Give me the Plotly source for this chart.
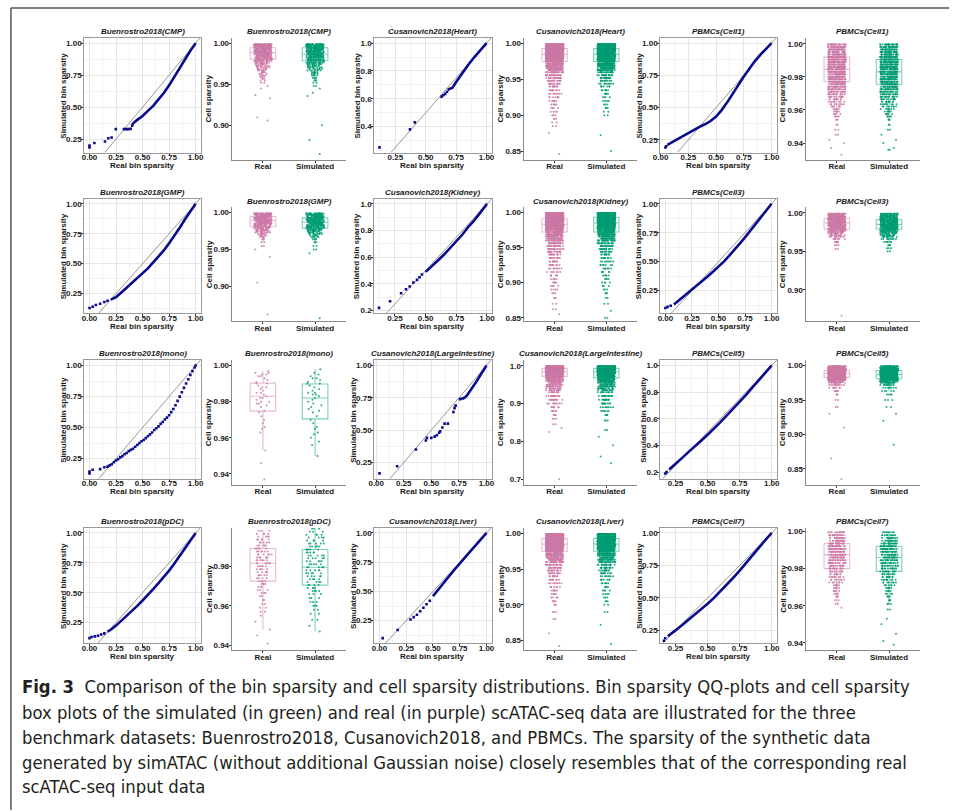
import numpy as np
import plotly.graph_objects as go

W, H = 956, 812

# ---------------- QQ data (real quantile x, simulated quantile y) ----------------
cmp_pts_x = [0.0, 0.0, 0.046, 0.146, 0.177, 0.208, 0.248, 0.325, 0.345, 0.365, 0.387, 0.402]
cmp_pts_y = [0.185, 0.20, 0.219, 0.231, 0.257, 0.262, 0.328, 0.328, 0.328, 0.328, 0.33, 0.354]
cmp_cur_x = [0.40, 0.42, 0.45, 0.5, 0.55, 0.6, 0.65, 0.7, 0.75, 0.8, 0.85, 0.9, 0.95, 1.0]
cmp_cur_y = [0.36, 0.38, 0.40, 0.43, 0.47, 0.51, 0.56, 0.61, 0.67, 0.74, 0.81, 0.88, 0.94, 1.0]

heart_pts_x = [0.119, 0.37, 0.41, 0.63, 0.645, 0.66, 0.675]
heart_pts_y = [0.25, 0.38, 0.43, 0.615, 0.625, 0.635, 0.65]
heart_cur_x = [0.68, 0.70, 0.72, 0.75, 0.8, 0.85, 0.9, 0.95, 1.0]
heart_cur_y = [0.665, 0.67, 0.68, 0.72, 0.785, 0.845, 0.90, 0.95, 1.0]

cell1_pts_x = [0.043, 0.05]
cell1_pts_y = [0.19, 0.20]
cell1_cur_x = [0.06, 0.1, 0.15, 0.2, 0.25, 0.3, 0.35, 0.4, 0.45, 0.5, 0.55, 0.6, 0.65, 0.7, 0.75, 0.8, 0.85, 0.9, 0.95, 1.0]
cell1_cur_y = [0.21, 0.23, 0.255, 0.275, 0.30, 0.325, 0.35, 0.37, 0.395, 0.43, 0.48, 0.54, 0.61, 0.675, 0.74, 0.80, 0.86, 0.91, 0.955, 1.0]

gmp_pts_x = [0.0, 0.03, 0.06, 0.10, 0.14, 0.17]
gmp_pts_y = [0.13, 0.14, 0.155, 0.165, 0.18, 0.19]
gmp_cur_x = [0.2, 0.25, 0.3, 0.35, 0.4, 0.45, 0.5, 0.55, 0.6, 0.65, 0.7, 0.75, 0.8, 0.85, 0.9, 0.95, 1.0]
gmp_cur_y = [0.20, 0.22, 0.26, 0.30, 0.34, 0.38, 0.42, 0.46, 0.51, 0.56, 0.61, 0.67, 0.73, 0.80, 0.87, 0.935, 1.0]

kidney_pts_x = [0.12, 0.21, 0.30, 0.34, 0.37, 0.40, 0.43, 0.45, 0.47]
kidney_pts_y = [0.22, 0.27, 0.33, 0.36, 0.38, 0.41, 0.43, 0.45, 0.47]
kidney_cur_x = [0.5, 0.55, 0.6, 0.65, 0.7, 0.75, 0.8, 0.85, 0.9, 0.95, 1.0]
kidney_cur_y = [0.49, 0.53, 0.575, 0.62, 0.67, 0.72, 0.77, 0.83, 0.88, 0.94, 1.0]

cell3_pts_x = [0.0, 0.02, 0.05]
cell3_pts_y = [0.10, 0.11, 0.12]
cell3_cur_x = [0.08, 0.1, 0.15, 0.2, 0.25, 0.3, 0.35, 0.4, 0.45, 0.5, 0.55, 0.6, 0.65, 0.7, 0.75, 0.8, 0.85, 0.9, 0.95, 1.0]
cell3_cur_y = [0.13, 0.145, 0.18, 0.22, 0.255, 0.295, 0.335, 0.375, 0.415, 0.455, 0.50, 0.55, 0.60, 0.655, 0.71, 0.77, 0.83, 0.885, 0.945, 1.0]

mono_pts_x = [0.0, 0.0, 0.03, 0.1, 0.14, 0.17, 0.19, 0.21, 0.23, 0.25, 0.27, 0.29, 0.31, 0.33, 0.35, 0.37,
              0.39, 0.41, 0.43, 0.45, 0.47, 0.49, 0.51, 0.53, 0.55, 0.57, 0.59, 0.61, 0.63, 0.65, 0.67, 0.69,
              0.71, 0.73, 0.75, 0.77, 0.79, 0.81, 0.83, 0.85, 0.87, 0.89, 0.91, 0.93, 0.95, 0.97, 0.99, 1.0]
mono_pts_y = [0.13, 0.145, 0.16, 0.165, 0.18, 0.185, 0.195, 0.205, 0.22, 0.235, 0.245, 0.26, 0.27, 0.285, 0.295, 0.31,
              0.32, 0.33, 0.345, 0.36, 0.375, 0.39, 0.40, 0.415, 0.43, 0.445, 0.46, 0.48, 0.495, 0.51, 0.53, 0.545,
              0.565, 0.58, 0.60, 0.625, 0.65, 0.68, 0.715, 0.75, 0.785, 0.82, 0.855, 0.89, 0.925, 0.955, 0.985, 1.0]
mono_cur_x = []
mono_cur_y = []

li_pts_x = [0.03, 0.19, 0.36, 0.45, 0.46, 0.50, 0.53, 0.55, 0.57, 0.58, 0.60, 0.62, 0.65, 0.70, 0.71, 0.72, 0.76, 0.78]
li_pts_y = [0.165, 0.22, 0.35, 0.42, 0.44, 0.44, 0.45, 0.46, 0.48, 0.49, 0.52, 0.55, 0.55, 0.64, 0.67, 0.69, 0.74, 0.745]
li_cur_x = [0.785, 0.80, 0.82, 0.85, 0.88, 0.9, 0.93, 0.95, 0.97, 1.0]
li_cur_y = [0.745, 0.75, 0.765, 0.80, 0.84, 0.865, 0.905, 0.93, 0.96, 1.0]

cell5_pts_x = [0.17, 0.18]
cell5_pts_y = [0.19, 0.20]
cell5_cur_x = [0.2, 0.25, 0.3, 0.35, 0.4, 0.45, 0.5, 0.55, 0.6, 0.65, 0.7, 0.75, 0.8, 0.85, 0.9, 0.95, 1.0]
cell5_cur_y = [0.22, 0.26, 0.305, 0.35, 0.39, 0.435, 0.48, 0.525, 0.575, 0.625, 0.675, 0.73, 0.78, 0.835, 0.89, 0.945, 1.0]

pdc_pts_x = [0.0, 0.02, 0.05, 0.08, 0.11, 0.14]
pdc_pts_y = [0.12, 0.13, 0.135, 0.14, 0.15, 0.16]
pdc_cur_x = [0.17, 0.2, 0.25, 0.3, 0.35, 0.4, 0.45, 0.5, 0.55, 0.6, 0.65, 0.7, 0.75, 0.8, 0.85, 0.9, 0.95, 1.0]
pdc_cur_y = [0.175, 0.19, 0.225, 0.265, 0.305, 0.35, 0.39, 0.435, 0.48, 0.53, 0.58, 0.63, 0.685, 0.745, 0.81, 0.875, 0.94, 1.0]

liver_pts_x = [0.03, 0.17, 0.29, 0.32, 0.35, 0.38, 0.41, 0.44, 0.47]
liver_pts_y = [0.10, 0.17, 0.26, 0.28, 0.30, 0.33, 0.36, 0.39, 0.42]
liver_cur_x = [0.5, 0.55, 0.6, 0.65, 0.7, 0.75, 0.8, 0.85, 0.9, 0.95, 1.0]
liver_cur_y = [0.46, 0.52, 0.575, 0.63, 0.685, 0.74, 0.79, 0.845, 0.895, 0.95, 1.0]

cell7_pts_x = [0.16, 0.17]
cell7_pts_y = [0.17, 0.19]
cell7_cur_x = [0.19, 0.22, 0.25, 0.3, 0.35, 0.4, 0.45, 0.5, 0.55, 0.6, 0.65, 0.7, 0.75, 0.8, 0.85, 0.9, 0.95, 1.0]
cell7_cur_y = [0.205, 0.225, 0.25, 0.29, 0.33, 0.37, 0.41, 0.455, 0.50, 0.55, 0.60, 0.655, 0.71, 0.77, 0.83, 0.885, 0.945, 1.0]

# ---------------- Cell sparsity data (value, number of cells) ----------------
cmp_real_v = [0.999, 0.997, 0.995, 0.993, 0.991, 0.989, 0.987, 0.985, 0.983, 0.981, 0.979, 0.977, 0.975, 0.973, 0.971,
              0.969, 0.967, 0.965, 0.963, 0.961, 0.959, 0.957, 0.955, 0.952, 0.948, 0.945, 0.937, 0.933, 0.910, 0.906]
cmp_real_n = [50, 45, 35, 35, 30, 30, 28, 25, 22, 20, 18, 15, 12, 10, 8, 7, 6, 5, 4, 4, 3, 3, 2, 2, 1, 1, 1, 1, 1, 1]
cmp_sim_v = [0.999, 0.997, 0.995, 0.993, 0.991, 0.989, 0.987, 0.985, 0.983, 0.981, 0.979, 0.977, 0.975, 0.973, 0.971,
             0.969, 0.967, 0.965, 0.963, 0.961, 0.958, 0.955, 0.952, 0.948, 0.945, 0.940, 0.936, 0.900, 0.882, 0.865]
cmp_sim_n = [45, 40, 35, 32, 30, 28, 27, 25, 23, 21, 19, 17, 15, 12, 10, 8, 7, 6, 5, 4, 4, 3, 2, 2, 1, 1, 1, 1, 1, 1]

heart_real_v = [0.999, 0.997, 0.995, 0.993, 0.991, 0.989, 0.987, 0.985, 0.983, 0.981, 0.979, 0.977, 0.975, 0.972,
                0.969, 0.966, 0.963, 0.960, 0.956, 0.952, 0.948, 0.944, 0.940, 0.935, 0.930, 0.925, 0.920, 0.915,
                0.910, 0.905, 0.900, 0.895, 0.890, 0.885, 0.875, 0.846]
heart_real_n = [80, 85, 85, 85, 85, 85, 85, 80, 75, 70, 65, 55, 45, 55, 45, 35, 28, 24, 22, 18, 15, 12, 10, 9, 8, 7,
                6, 5, 5, 4, 3, 3, 2, 2, 1, 1]
heart_sim_v = [0.999, 0.997, 0.995, 0.993, 0.991, 0.989, 0.987, 0.985, 0.983, 0.981, 0.979, 0.977, 0.975, 0.972,
               0.969, 0.966, 0.963, 0.960, 0.956, 0.952, 0.948, 0.944, 0.940, 0.935, 0.930, 0.925, 0.920, 0.915,
               0.910, 0.905, 0.900, 0.872, 0.850]
heart_sim_n = [85, 85, 85, 85, 85, 85, 82, 80, 75, 70, 65, 55, 48, 55, 45, 35, 28, 22, 18, 14, 11, 9, 7, 6, 5, 4,
               4, 3, 3, 2, 2, 1, 1]

cell1_real_v = [0.9995, 0.998, 0.9965, 0.995, 0.9935, 0.992, 0.9905, 0.989, 0.9875, 0.986, 0.9845, 0.983, 0.9815,
                0.980, 0.9785, 0.977, 0.9755, 0.974, 0.9725, 0.971, 0.9695, 0.968, 0.9665, 0.965, 0.9635, 0.962,
                0.9605, 0.959, 0.9575, 0.956, 0.954, 0.951, 0.948, 0.945, 0.942, 0.940, 0.937, 0.933]
cell1_real_n = [30, 32, 34, 36, 38, 40, 40, 40, 40, 40, 38, 37, 36, 34, 32, 30, 27, 24, 21, 18, 15, 13, 11, 9, 8, 7,
                6, 5, 4, 4, 3, 2, 2, 2, 1, 1, 1, 1]
cell1_sim_v = [0.9995, 0.998, 0.9965, 0.995, 0.9935, 0.992, 0.9905, 0.989, 0.9875, 0.986, 0.9845, 0.983, 0.9815,
               0.980, 0.9785, 0.977, 0.9755, 0.974, 0.9725, 0.971, 0.9695, 0.968, 0.9665, 0.965, 0.9635, 0.962,
               0.9605, 0.959, 0.9575, 0.956, 0.954, 0.951, 0.948, 0.945, 0.942, 0.940, 0.937, 0.936]
cell1_sim_n = [24, 26, 28, 30, 32, 34, 36, 37, 38, 38, 38, 37, 36, 35, 33, 31, 29, 27, 24, 21, 18, 15, 13, 11, 9, 8,
               7, 6, 5, 4, 3, 2, 2, 1, 1, 1, 1, 2]

gmp_real_v = [0.999, 0.997, 0.995, 0.993, 0.991, 0.989, 0.987, 0.985, 0.983, 0.981, 0.979, 0.977, 0.975, 0.973,
              0.971, 0.969, 0.967, 0.964, 0.960, 0.955, 0.950, 0.940, 0.905, 0.862]
gmp_real_n = [30, 30, 30, 30, 30, 28, 26, 24, 22, 20, 17, 14, 11, 9, 7, 5, 4, 3, 2, 2, 1, 1, 1, 1]
gmp_sim_v = [0.999, 0.997, 0.995, 0.993, 0.991, 0.989, 0.987, 0.985, 0.983, 0.981, 0.979, 0.977, 0.975, 0.973,
             0.971, 0.969, 0.967, 0.964, 0.960, 0.955, 0.950, 0.945, 0.857]
gmp_sim_n = [22, 24, 26, 28, 30, 30, 28, 26, 24, 22, 19, 16, 13, 10, 8, 6, 5, 4, 3, 2, 2, 1, 1]

kidney_real_v = [0.999, 0.997, 0.995, 0.993, 0.991, 0.989, 0.987, 0.985, 0.983, 0.981, 0.979, 0.977, 0.975, 0.972,
                 0.969, 0.966, 0.963, 0.960, 0.956, 0.952, 0.948, 0.944, 0.940, 0.935, 0.930, 0.925, 0.920, 0.915,
                 0.910, 0.905, 0.900, 0.895, 0.890, 0.885, 0.878, 0.870, 0.862, 0.855]
kidney_real_n = [70, 75, 78, 80, 80, 80, 78, 75, 70, 65, 60, 52, 45, 50, 42, 35, 30, 26, 24, 20, 17, 15, 13, 12, 10,
                 9, 8, 7, 6, 5, 5, 4, 4, 3, 3, 2, 2, 1]
kidney_sim_v = [0.999, 0.997, 0.995, 0.993, 0.991, 0.989, 0.987, 0.985, 0.983, 0.981, 0.979, 0.977, 0.975, 0.972,
                0.969, 0.966, 0.963, 0.960, 0.956, 0.952, 0.948, 0.944, 0.940, 0.935, 0.930, 0.925, 0.920, 0.915,
                0.910, 0.905, 0.900, 0.895, 0.890, 0.885, 0.878, 0.870, 0.860, 0.850]
kidney_sim_n = [75, 78, 80, 82, 82, 80, 78, 75, 70, 65, 58, 50, 44, 48, 40, 33, 28, 24, 20, 17, 14, 12, 10, 9, 8, 7,
                6, 5, 5, 4, 4, 3, 3, 3, 2, 2, 1, 2]

cell3_real_v = [0.999, 0.997, 0.995, 0.993, 0.991, 0.989, 0.987, 0.985, 0.983, 0.981, 0.979, 0.977, 0.975, 0.973,
                0.971, 0.969, 0.966, 0.962, 0.958, 0.953, 0.866]
cell3_real_n = [30, 34, 36, 38, 38, 38, 37, 35, 33, 30, 27, 23, 19, 15, 12, 9, 7, 5, 3, 2, 1]
cell3_sim_v = [0.999, 0.997, 0.995, 0.993, 0.991, 0.989, 0.987, 0.985, 0.983, 0.981, 0.979, 0.977, 0.975, 0.973,
               0.971, 0.969, 0.966, 0.962, 0.958, 0.954, 0.950]
cell3_sim_n = [25, 28, 31, 34, 36, 37, 37, 36, 34, 32, 29, 26, 22, 18, 15, 12, 9, 6, 4, 3, 2]

mono_real_v = [0.997, 0.996, 0.996, 0.995, 0.995, 0.994, 0.994, 0.993, 0.992, 0.991, 0.990, 0.990, 0.989, 0.988,
               0.988, 0.987, 0.986, 0.985, 0.985, 0.984, 0.983, 0.982, 0.982, 0.981, 0.980, 0.980, 0.979, 0.979,
               0.978, 0.977, 0.975, 0.974, 0.972, 0.970, 0.968, 0.966, 0.965, 0.963, 0.953, 0.946, 0.937]
mono_real_n = [1] * 41
mono_sim_v = [0.998, 0.996, 0.995, 0.994, 0.993, 0.993, 0.992, 0.991, 0.990, 0.990, 0.989, 0.988, 0.987, 0.986,
              0.985, 0.985, 0.984, 0.984, 0.983, 0.982, 0.981, 0.980, 0.979, 0.978, 0.977, 0.976, 0.975, 0.974,
              0.972, 0.970, 0.968, 0.966, 0.965, 0.963, 0.962, 0.960, 0.958, 0.956, 0.950]
mono_sim_n = [1] * 39

li_real_v = [0.999, 0.996, 0.993, 0.990, 0.987, 0.984, 0.981, 0.978, 0.975, 0.972, 0.968, 0.964, 0.960, 0.955,
             0.950, 0.945, 0.940, 0.935, 0.930, 0.920, 0.910, 0.900, 0.890, 0.880, 0.870, 0.860, 0.845, 0.835,
             0.825, 0.700]
li_real_n = [90, 100, 100, 95, 90, 85, 75, 65, 55, 45, 40, 33, 28, 24, 20, 17, 14, 12, 10, 15, 12, 9, 7, 5, 4, 3, 2,
             1, 1, 1]
li_sim_v = [0.999, 0.996, 0.993, 0.990, 0.987, 0.984, 0.981, 0.978, 0.975, 0.972, 0.968, 0.964, 0.960, 0.955,
            0.950, 0.945, 0.940, 0.935, 0.930, 0.920, 0.910, 0.900, 0.890, 0.880, 0.870, 0.855, 0.830, 0.812,
            0.790, 0.760, 0.742]
li_sim_n = [85, 95, 95, 92, 88, 82, 75, 66, 58, 50, 44, 37, 31, 27, 22, 19, 16, 13, 11, 16, 13, 10, 8, 6, 4, 3, 2,
            1, 1, 1, 1]

cell5_real_v = [0.999, 0.997, 0.995, 0.993, 0.991, 0.989, 0.987, 0.985, 0.983, 0.981, 0.979, 0.977, 0.975, 0.972,
                0.968, 0.963, 0.958, 0.950, 0.940, 0.930, 0.910, 0.865, 0.835]
cell5_real_n = [35, 45, 55, 60, 62, 62, 60, 55, 48, 40, 30, 22, 15, 10, 7, 5, 3, 2, 2, 1, 1, 1, 1]
cell5_sim_v = [0.999, 0.997, 0.995, 0.993, 0.991, 0.989, 0.987, 0.985, 0.983, 0.981, 0.979, 0.977, 0.975, 0.972,
               0.968, 0.963, 0.958, 0.950, 0.940, 0.930, 0.920, 0.885]
cell5_sim_n = [30, 40, 50, 55, 58, 60, 60, 56, 50, 42, 33, 25, 18, 12, 8, 5, 4, 3, 2, 1, 1, 1]

pdc_real_v = [0.998, 0.9965, 0.995, 0.9935, 0.992, 0.9905, 0.989, 0.9875, 0.986, 0.9845, 0.983, 0.9815, 0.980,
              0.9785, 0.977, 0.9755, 0.974, 0.9725, 0.971, 0.9695, 0.968, 0.9665, 0.965, 0.963, 0.961, 0.959,
              0.957, 0.955, 0.952, 0.948, 0.945, 0.941]
pdc_real_n = [3, 4, 4, 5, 5, 5, 6, 6, 6, 6, 6, 6, 5, 5, 5, 5, 4, 4, 4, 3, 3, 3, 2, 2, 2, 2, 2, 1, 1, 1, 1, 1]
pdc_sim_v = [0.999, 0.9975, 0.996, 0.9945, 0.993, 0.9915, 0.990, 0.9885, 0.987, 0.9855, 0.984, 0.9825, 0.981,
             0.9795, 0.978, 0.9765, 0.975, 0.9735, 0.972, 0.9705, 0.969, 0.9675, 0.966, 0.964, 0.962, 0.960,
             0.958, 0.956, 0.953, 0.950, 0.947]
pdc_sim_n = [3, 3, 4, 4, 4, 5, 5, 5, 5, 5, 5, 5, 5, 5, 5, 5, 5, 4, 4, 4, 4, 4, 3, 3, 3, 3, 2, 2, 2, 1, 1]

liver_real_v = [0.999, 0.997, 0.995, 0.993, 0.991, 0.989, 0.987, 0.985, 0.983, 0.981, 0.979, 0.977, 0.975, 0.972,
                0.969, 0.966, 0.963, 0.960, 0.956, 0.952, 0.948, 0.944, 0.940, 0.935, 0.930, 0.925, 0.920, 0.915,
                0.910, 0.905, 0.900, 0.890, 0.880, 0.860, 0.842]
liver_real_n = [75, 80, 82, 82, 82, 80, 78, 75, 70, 65, 58, 50, 44, 50, 42, 34, 28, 24, 20, 17, 14, 12, 10, 9, 8, 7,
                6, 5, 4, 4, 3, 3, 2, 1, 1]
liver_sim_v = [0.999, 0.997, 0.995, 0.993, 0.991, 0.989, 0.987, 0.985, 0.983, 0.981, 0.979, 0.977, 0.975, 0.972,
               0.969, 0.966, 0.963, 0.960, 0.956, 0.952, 0.948, 0.944, 0.940, 0.935, 0.930, 0.925, 0.920, 0.915,
               0.910, 0.905, 0.900, 0.890, 0.872, 0.845]
liver_sim_n = [80, 82, 84, 84, 82, 80, 78, 74, 68, 62, 55, 48, 42, 46, 38, 30, 25, 21, 17, 14, 12, 10, 8, 7, 6, 5,
               4, 4, 3, 3, 2, 2, 1, 1]

cell7_real_v = [0.9995, 0.998, 0.9965, 0.995, 0.9935, 0.992, 0.9905, 0.989, 0.9875, 0.986, 0.9845, 0.983, 0.9815,
                0.980, 0.9785, 0.977, 0.9755, 0.974, 0.9725, 0.971, 0.9695, 0.968, 0.9665, 0.965, 0.963, 0.961,
                0.959]
cell7_real_n = [12, 16, 18, 20, 22, 23, 24, 24, 23, 22, 20, 18, 16, 14, 12, 10, 9, 8, 7, 6, 5, 4, 4, 3, 2, 2, 1]
cell7_sim_v = [0.9995, 0.998, 0.9965, 0.995, 0.9935, 0.992, 0.9905, 0.989, 0.9875, 0.986, 0.9845, 0.983, 0.9815,
               0.980, 0.9785, 0.977, 0.9755, 0.974, 0.9725, 0.971, 0.9695, 0.968, 0.9665, 0.965, 0.963, 0.961,
               0.958, 0.953, 0.950, 0.945, 0.941, 0.939]
cell7_sim_n = [8, 11, 14, 17, 19, 21, 22, 22, 22, 21, 20, 18, 16, 15, 13, 11, 10, 9, 8, 7, 6, 5, 4, 4, 3, 3, 2, 1,
               1, 1, 1, 1]

categories = ["Real", "Simulated"]

# ---------------- panel definitions ----------------
COLS = [(78, 196), (227, 343), (371, 490), (522, 637), (660, 778), (807, 923)]
ROWS_QQ = [(38, 153), (199, 314), (361, 480), (529, 645)]
ROWS_BOX = [(38, 160), (208, 322), (361, 486), (529, 652)]

qq_panels = [
    ("Buenrostro2018(CMP)", 0, 0, cmp_pts_x, cmp_pts_y, cmp_cur_x, cmp_cur_y, [-0.05, 1.05], [0.144, 1.041], 0.25, ".2f", 0.25, ".2f"),
    ("Cusanovich2018(Heart)", 0, 2, heart_pts_x, heart_pts_y, heart_cur_x, heart_cur_y, [0.075, 1.044], [0.2125, 1.0375], 0.25, ".2f", 0.2, ".1f"),
    ("PBMCs(Cell1)", 0, 4, cell1_pts_x, cell1_pts_y, cell1_cur_x, cell1_cur_y, [-0.005, 1.048], [0.15, 1.04], 0.25, ".2f", 0.25, ".2f"),
    ("Buenrostro2018(GMP)", 1, 0, gmp_pts_x, gmp_pts_y, gmp_cur_x, gmp_cur_y, [-0.05, 1.05], [0.0865, 1.0435], 0.25, ".2f", 0.25, ".2f"),
    ("Cusanovich2018(Kidney)", 1, 2, kidney_pts_x, kidney_pts_y, kidney_cur_x, kidney_cur_y, [0.08, 1.04], [0.18, 1.04], 0.25, ".2f", 0.2, ".1f"),
    ("PBMCs(Cell3)", 1, 4, cell3_pts_x, cell3_pts_y, cell3_cur_x, cell3_cur_y, [-0.05, 1.05], [0.055, 1.045], 0.25, ".2f", 0.25, ".2f"),
    ("Buenrostro2018(mono)", 2, 0, mono_pts_x, mono_pts_y, mono_cur_x, mono_cur_y, [-0.05, 1.05], [0.087, 1.044], 0.25, ".2f", 0.25, ".2f"),
    ("Cusanovich2018(LargeIntestine)", 2, 2, li_pts_x, li_pts_y, li_cur_x, li_cur_y, [-0.019, 1.049], [0.123, 1.042], 0.25, ".2f", 0.25, ".2f"),
    ("PBMCs(Cell5)", 2, 4, cell5_pts_x, cell5_pts_y, cell5_cur_x, cell5_cur_y, [0.13, 1.04], [0.15, 1.04], 0.25, ".2f", 0.2, ".1f"),
    ("Buenrostro2018(pDC)", 3, 0, pdc_pts_x, pdc_pts_y, pdc_cur_x, pdc_cur_y, [-0.05, 1.05], [0.076, 1.044], 0.25, ".2f", 0.25, ".2f"),
    ("Cusanovich2018(Liver)", 3, 2, liver_pts_x, liver_pts_y, liver_cur_x, liver_cur_y, [-0.05, 1.05], [0.055, 1.045], 0.25, ".2f", 0.25, ".2f"),
    ("PBMCs(Cell7)", 3, 4, cell7_pts_x, cell7_pts_y, cell7_cur_x, cell7_cur_y, [0.13, 1.04], [0.15, 1.04], 0.25, ".2f", 0.25, ".2f"),
]

box_panels = [
    ("Buenrostro2018(CMP)", 0, 1, cmp_real_v, cmp_real_n, cmp_sim_v, cmp_sim_n, [0.858, 1.007], 0.05, ".2f"),
    ("Cusanovich2018(Heart)", 0, 3, heart_real_v, heart_real_n, heart_sim_v, heart_sim_n, [0.838, 1.008], 0.05, ".2f"),
    ("PBMCs(Cell1)", 0, 5, cell1_real_v, cell1_real_n, cell1_sim_v, cell1_sim_n, [0.930, 1.0035], 0.02, ".2f"),
    ("Buenrostro2018(GMP)", 1, 1, gmp_real_v, gmp_real_n, gmp_sim_v, gmp_sim_n, [0.853, 1.007], 0.05, ".2f"),
    ("Cusanovich2018(Kidney)", 1, 3, kidney_real_v, kidney_real_n, kidney_sim_v, kidney_sim_n, [0.845, 1.007], 0.05, ".2f"),
    ("PBMCs(Cell3)", 1, 5, cell3_real_v, cell3_real_n, cell3_sim_v, cell3_sim_n, [0.859, 1.007], 0.05, ".2f"),
    ("Buenrostro2018(mono)", 2, 1, mono_real_v, mono_real_n, mono_sim_v, mono_sim_n, [0.934, 1.003], 0.02, ".2f"),
    ("Cusanovich2018(LargeIntestine)", 2, 3, li_real_v, li_real_n, li_sim_v, li_sim_n, [0.685, 1.015], 0.1, ".1f"),
    ("PBMCs(Cell5)", 2, 5, cell5_real_v, cell5_real_n, cell5_sim_v, cell5_sim_n, [0.827, 1.008], 0.05, ".2f"),
    ("Buenrostro2018(pDC)", 3, 1, pdc_real_v, pdc_real_n, pdc_sim_v, pdc_sim_n, [0.9375, 0.9995], 0.02, ".2f"),
    ("Cusanovich2018(Liver)", 3, 3, liver_real_v, liver_real_n, liver_sim_v, liver_sim_n, [0.836, 1.008], 0.05, ".2f"),
    ("PBMCs(Cell7)", 3, 5, cell7_real_v, cell7_real_n, cell7_sim_v, cell7_sim_n, [0.936, 1.002], 0.02, ".2f"),
]

FONT = "Liberation Sans, Arial, sans-serif"
TXT = "#1a1a1a"
QQ_COL = "#0b0b8f"
REAL_COL = "#CC79A7"
SIM_COL = "#009E73"
REAL_LINE = "rgba(204,121,167,0.5)"
SIM_LINE = "rgba(0,158,115,0.5)"

fig = go.Figure()
layout = dict(width=W, height=H, margin=dict(l=0, r=0, t=0, b=0), paper_bgcolor="white",
              plot_bgcolor="white", showlegend=False, boxgap=0.3, boxmode="overlay",
              font=dict(family=FONT, color=TXT))
annotations = []
shapes = []


def pxx(x):
    return x / W


def pxy(y):
    return 1 - y / H


tickfont = dict(family=FONT, size=8, color=TXT, weight="bold")


def add_title(text, cx, top):
    annotations.append(dict(text="<b><i>%s</i></b>" % text, x=pxx(cx), y=pxy(top - 6.5), xref="paper", yref="paper",
                            showarrow=False, xanchor="center", yanchor="middle",
                            font=dict(family=FONT, size=8, color=TXT)))


def add_label(text, x, y, angle=0):
    annotations.append(dict(text="<b>%s</b>" % text, x=pxx(x), y=pxy(y), xref="paper", yref="paper",
                            showarrow=False, xanchor="center", yanchor="middle", textangle=angle,
                            font=dict(family=FONT, size=8, color=TXT)))


n = 0
for (title, r, c, px_, py_, cx_, cy_, xr, yr, xdt, xf, ydt, yf) in qq_panels:
    n += 1
    sfx = "" if n == 1 else str(n)
    x0, x1 = COLS[c]
    y0, y1 = ROWS_QQ[r]
    common = dict(showgrid=True, gridcolor="#e6e6e6", gridwidth=0.8, zeroline=False, showline=True, mirror=True,
                  linecolor="#9a9a9a", linewidth=0.8, ticks="outside", ticklen=2, tickwidth=0.8, tickcolor="#333",
                  tickfont=tickfont, fixedrange=True)
    layout["xaxis" + sfx] = dict(domain=[pxx(x0), pxx(x1)], anchor="y" + sfx, range=xr, tick0=0, dtick=xdt,
                                 tickformat=xf, ticklabelstandoff=-5,
                                 minor=dict(showgrid=True, gridcolor="#f2f2f2", tick0=xdt / 2, dtick=xdt),
                                 **common)
    layout["yaxis" + sfx] = dict(domain=[pxy(y1), pxy(y0)], anchor="x" + sfx, range=yr, tick0=0, dtick=ydt,
                                 tickformat=yf, ticklabelstandoff=-2,
                                 minor=dict(showgrid=True, gridcolor="#f2f2f2", tick0=ydt / 2, dtick=ydt),
                                 **common)
    lo = max(xr[0], yr[0])
    hi = min(xr[1], yr[1])
    fig.add_trace(go.Scatter(x=[lo, hi], y=[lo, hi], mode="lines", line=dict(color="#8c8c8c", width=0.9),
                             xaxis="x" + sfx, yaxis="y" + sfx, hoverinfo="skip"))
    if len(cx_):
        fig.add_trace(go.Scatter(x=cx_, y=cy_, mode="lines", line=dict(color=QQ_COL, width=2.6),
                                 xaxis="x" + sfx, yaxis="y" + sfx, hoverinfo="skip"))
    fig.add_trace(go.Scatter(x=px_, y=py_, mode="markers", marker=dict(color=QQ_COL, size=2.6, symbol="square"),
                             xaxis="x" + sfx, yaxis="y" + sfx, hoverinfo="skip"))
    add_title(title, (x0 + x1) / 2, y0)
    add_label("Real bin sparsity", (x0 + x1) / 2, y1 + 13)
    yoff = 17 if yf == ".1f" else 21
    add_label("Simulated bin sparsity", x0 - yoff, (y0 + y1) / 2, -90)

for (title, r, c, rv, rn, sv, sn, yr, ydt, yf) in box_panels:
    n += 1
    sfx = str(n)
    x0, x1 = COLS[c]
    y0, y1 = ROWS_BOX[r]
    common = dict(showgrid=False, zeroline=False, showline=True, linecolor="#8a8a8a", linewidth=0.9,
                  ticks="outside", ticklen=2, tickwidth=0.8, tickcolor="#333", tickfont=tickfont, fixedrange=True)
    layout["xaxis" + sfx] = dict(domain=[pxx(x0), pxx(x1)], anchor="y" + sfx, type="category",
                                 categoryorder="array", categoryarray=categories, range=[-0.6, 1.6],
                                 ticklabelstandoff=-3, **common)
    layout["yaxis" + sfx] = dict(domain=[pxy(y1), pxy(y0)], anchor="x" + sfx, range=yr, tick0=0, dtick=ydt,
                                 tickformat=yf, ticklabelstandoff=-2, **common)
    for cat, vals, cnts, col, lcol in ((categories[0], rv, rn, REAL_COL, REAL_LINE),
                                       (categories[1], sv, sn, SIM_COL, SIM_LINE)):
        vals = np.array(vals)
        cnts = np.array(cnts)
        allv = np.repeat(vals, cnts)
        # box with 1.5*IQR whiskers computed by plotly from all cells (outlier marks hidden, shown below)
        fig.add_trace(go.Box(y=allv, name=cat, xaxis="x" + sfx, yaxis="y" + sfx, boxpoints="outliers",
                             whiskerwidth=0, fillcolor="rgba(0,0,0,0)", line=dict(color=lcol, width=1.1),
                             marker=dict(opacity=0, size=1), hoverinfo="skip"))
        # jittered cells, split by local crowding so that plotly's jitter spreads sparse cells too
        for mask in (cnts >= 8, (cnts >= 2) & (cnts < 8), cnts < 2):
            if mask.sum() == 0:
                continue
            part = np.repeat(vals[mask], cnts[mask])
            fig.add_trace(go.Box(y=part, name=cat, xaxis="x" + sfx, yaxis="y" + sfx, boxpoints="all",
                                 jitter=0.7, pointpos=0, whiskerwidth=0, fillcolor="rgba(0,0,0,0)",
                                 line=dict(color="rgba(0,0,0,0)", width=0),
                                 marker=dict(color=col, size=2, opacity=0.85), hoverinfo="skip"))
    add_title(title, (x0 + x1) / 2, y0)
    add_label("Cell sparsity", x0 - 23, (y0 + y1) / 2, -90)

# caption
caption_lines = [
    "<b>Fig. 3</b>&nbsp;&nbsp;Comparison of the bin sparsity and cell sparsity distributions. Bin sparsity QQ-plots and cell sparsity",
    "box plots of the simulated (in green) and real (in purple) scATAC-seq data are illustrated for the three",
    "benchmark datasets: Buenrostro2018, Cusanovich2018, and PBMCs. The sparsity of the synthetic data",
    "generated by simATAC (without additional Gaussian noise) closely resembles that of the corresponding real",
    "scATAC-seq input data",
]
caption_y = [688, 714, 739, 764, 788]
for t, yy in zip(caption_lines, caption_y):
    annotations.append(dict(text=t, x=pxx(13), y=pxy(yy), xref="paper", yref="paper", showarrow=False,
                            xanchor="left", yanchor="middle",
                            font=dict(family="Liberation Sans Narrow, Arial Narrow, DejaVu Sans Condensed, sans-serif",
                                      size=18.3, color="#231f20")))

# frame lines
shapes.append(dict(type="line", xref="paper", yref="paper", x0=pxx(4), x1=pxx(952), y0=pxy(8), y1=pxy(8),
                   line=dict(color="#555", width=1.5)))
shapes.append(dict(type="line", xref="paper", yref="paper", x0=pxx(4), x1=pxx(4), y0=pxy(8), y1=pxy(812),
                   line=dict(color="#555", width=1.5)))

layout["annotations"] = annotations
layout["shapes"] = shapes
fig.update_layout(**layout)
fig.write_html("out.html", config={"displayModeBar": False},
               post_script="document.body.style.margin='0px';document.body.style.overflow='hidden';")
